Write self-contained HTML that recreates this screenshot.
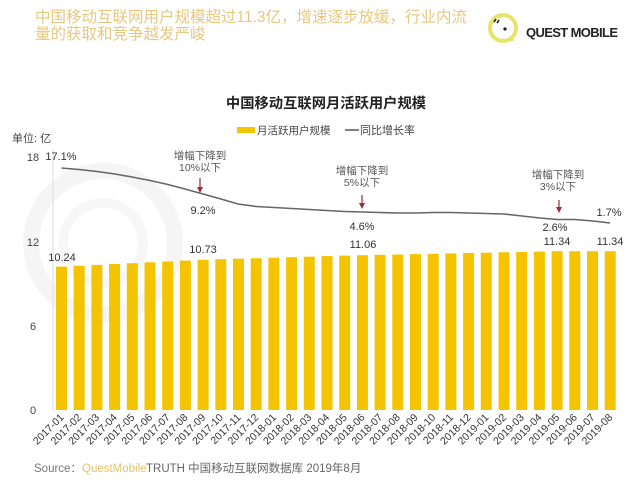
<!DOCTYPE html>
<html><head><meta charset="utf-8"><style>
html,body{margin:0;padding:0;background:#fff;}
svg{display:block;font-family:"Liberation Sans","Noto Sans CJK SC",sans-serif;}
</style></head><body>
<svg width="638" height="488" viewBox="0 0 638 488" xmlns="http://www.w3.org/2000/svg">
<rect width="638" height="488" fill="#fff"/>
<!-- header -->
<text x="35" y="22" font-size="15.5" fill="#e6c880" font-family="Liberation Sans,Noto Sans CJK SC,sans-serif">中国移动互联网用户规模超过11.3亿，增速逐步放缓，行业内流</text>
<text x="35" y="39" font-size="15.5" fill="#e6c880">量的获取和竞争越发严峻</text>
<!-- logo -->
<circle cx="503" cy="28" r="13" fill="none" stroke="#e8e46a" stroke-width="4"/>
<path d="M503 41 L514 41 L512 36 Z" fill="#e8e46a"/>
<circle cx="505" cy="29" r="1.6" fill="#222"/>
<path d="M494 22 L496 19 M497 23 L499 20" stroke="#222" stroke-width="1.6"/>
<text x="526" y="37" font-size="13" font-weight="bold" fill="#222" textLength="92">QUEST MOBILE</text>
<!-- watermark -->
<circle cx="103" cy="243" r="72" fill="none" stroke="#f5f5f5" stroke-width="16"/>
<circle cx="103" cy="243" r="40" fill="none" stroke="#f7f7f7" stroke-width="10"/>
<!-- title -->
<text x="326" y="108" font-size="14.3" font-weight="bold" fill="#222" text-anchor="middle">中国移动互联网月活跃用户规模</text>
<!-- legend -->
<rect x="237" y="127" width="18" height="6" fill="#f5c400"/>
<text x="257" y="134" font-size="10.5" fill="#444">月活跃用户规模</text>
<line x1="345" y1="130" x2="359" y2="130" stroke="#555" stroke-width="1.5"/>
<text x="360" y="134" font-size="11" fill="#444">同比增长率</text>
<text x="12" y="142" font-size="11" fill="#444">单位: 亿</text>
<!-- y axis -->
<line x1="53" y1="150" x2="53" y2="411" stroke="#ddd" stroke-width="1"/>
<g font-size="11" fill="#444" text-anchor="middle">
<text x="33" y="161">18</text>
<text x="33" y="246">12</text>
<text x="33" y="330">6</text>
<text x="33" y="414">0</text>
</g>
<!-- bars -->
<g fill="#f5c400">
<rect x="56.0" y="266.6" width="11" height="143.4"/>
<rect x="73.7" y="265.8" width="11" height="144.2"/>
<rect x="91.4" y="264.9" width="11" height="145.1"/>
<rect x="109.1" y="264.0" width="11" height="146.0"/>
<rect x="126.8" y="263.2" width="11" height="146.8"/>
<rect x="144.5" y="262.3" width="11" height="147.7"/>
<rect x="162.2" y="261.5" width="11" height="148.5"/>
<rect x="179.9" y="260.6" width="11" height="149.4"/>
<rect x="197.6" y="259.8" width="11" height="150.2"/>
<rect x="215.3" y="259.2" width="11" height="150.8"/>
<rect x="233.0" y="258.7" width="11" height="151.3"/>
<rect x="250.7" y="258.2" width="11" height="151.8"/>
<rect x="268.4" y="257.7" width="11" height="152.3"/>
<rect x="286.1" y="257.2" width="11" height="152.8"/>
<rect x="303.8" y="256.7" width="11" height="153.3"/>
<rect x="321.5" y="256.1" width="11" height="153.9"/>
<rect x="339.2" y="255.6" width="11" height="154.4"/>
<rect x="356.9" y="255.2" width="11" height="154.8"/>
<rect x="374.6" y="254.8" width="11" height="155.2"/>
<rect x="392.3" y="254.5" width="11" height="155.5"/>
<rect x="410.0" y="254.1" width="11" height="155.9"/>
<rect x="427.7" y="253.8" width="11" height="156.2"/>
<rect x="445.4" y="253.4" width="11" height="156.6"/>
<rect x="463.1" y="253.0" width="11" height="157.0"/>
<rect x="480.8" y="252.7" width="11" height="157.3"/>
<rect x="498.5" y="252.3" width="11" height="157.7"/>
<rect x="516.2" y="252.0" width="11" height="158.0"/>
<rect x="533.9" y="251.6" width="11" height="158.4"/>
<rect x="551.6" y="251.2" width="11" height="158.8"/>
<rect x="569.3" y="251.2" width="11" height="158.8"/>
<rect x="587.0" y="251.2" width="11" height="158.8"/>
<rect x="604.7" y="251.2" width="11" height="158.8"/>
</g>
<!-- line -->
<polyline fill="none" stroke="#666" stroke-width="1.6" stroke-linejoin="round" points="61.5,168 79,169.5 97,171.5 115,174 132,177 150,180.5 168,184.5 185,189 203,194 221,199 238,204 256,206.5 274,207.5 292,208.5 309,209.5 327,210.5 345,211.5 363,212 380,212.5 398,213 416,213 433,212.5 451,212.5 469,213 486,213.5 504,214 522,216 540,218 557,219.5 575,219.5 593,221 610,223"/>
<!-- data labels -->
<g font-size="11" fill="#333" text-anchor="middle">
<text x="61" y="160">17.1%</text>
<text x="62" y="261">10.24</text>
<text x="203" y="253">10.73</text>
<text x="203" y="214">9.2%</text>
<text x="362" y="230">4.6%</text>
<text x="363" y="248">11.06</text>
<text x="555" y="231">2.6%</text>
<text x="557" y="245">11.34</text>
<text x="609" y="216">1.7%</text>
<text x="610" y="245">11.34</text>
</g>
<!-- annotations -->
<g font-size="10.5" fill="#555" text-anchor="middle">
<text x="200" y="159">增幅下降到</text>
<text x="200" y="171">10%以下</text>
<text x="362" y="174">增幅下降到</text>
<text x="362" y="186">5%以下</text>
<text x="558" y="178">增幅下降到</text>
<text x="558" y="190">3%以下</text>
</g>
<g stroke="#9b2a3a" stroke-width="1.2" fill="#9b2a3a">
<line x1="200" y1="178" x2="200" y2="188"/><path d="M197 187 L203 187 L200 193 Z" stroke="none"/>
<line x1="362" y1="195" x2="362" y2="204"/><path d="M359 203 L365 203 L362 209 Z" stroke="none"/>
<line x1="559" y1="200" x2="559" y2="208"/><path d="M556 207 L562 207 L559 213 Z" stroke="none"/>
</g>
<!-- x labels -->
<g font-size="10.5" fill="#333" text-anchor="end">
<text transform="translate(64.5,418) rotate(-45)">2017-01</text>
<text transform="translate(82.2,418) rotate(-45)">2017-02</text>
<text transform="translate(99.9,418) rotate(-45)">2017-03</text>
<text transform="translate(117.6,418) rotate(-45)">2017-04</text>
<text transform="translate(135.3,418) rotate(-45)">2017-05</text>
<text transform="translate(153.0,418) rotate(-45)">2017-06</text>
<text transform="translate(170.7,418) rotate(-45)">2017-07</text>
<text transform="translate(188.4,418) rotate(-45)">2017-08</text>
<text transform="translate(206.1,418) rotate(-45)">2017-09</text>
<text transform="translate(223.8,418) rotate(-45)">2017-10</text>
<text transform="translate(241.5,418) rotate(-45)">2017-11</text>
<text transform="translate(259.2,418) rotate(-45)">2017-12</text>
<text transform="translate(276.9,418) rotate(-45)">2018-01</text>
<text transform="translate(294.6,418) rotate(-45)">2018-02</text>
<text transform="translate(312.3,418) rotate(-45)">2018-03</text>
<text transform="translate(330.0,418) rotate(-45)">2018-04</text>
<text transform="translate(347.7,418) rotate(-45)">2018-05</text>
<text transform="translate(365.4,418) rotate(-45)">2018-06</text>
<text transform="translate(383.1,418) rotate(-45)">2018-07</text>
<text transform="translate(400.8,418) rotate(-45)">2018-08</text>
<text transform="translate(418.5,418) rotate(-45)">2018-09</text>
<text transform="translate(436.2,418) rotate(-45)">2018-10</text>
<text transform="translate(453.9,418) rotate(-45)">2018-11</text>
<text transform="translate(471.6,418) rotate(-45)">2018-12</text>
<text transform="translate(489.3,418) rotate(-45)">2019-01</text>
<text transform="translate(507.0,418) rotate(-45)">2019-02</text>
<text transform="translate(524.7,418) rotate(-45)">2019-03</text>
<text transform="translate(542.4,418) rotate(-45)">2019-04</text>
<text transform="translate(560.1,418) rotate(-45)">2019-05</text>
<text transform="translate(577.8,418) rotate(-45)">2019-06</text>
<text transform="translate(595.5,418) rotate(-45)">2019-07</text>
<text transform="translate(613.2,418) rotate(-45)">2019-08</text>
</g>
<!-- source -->
<text x="34" y="472" font-size="11.5" fill="#777">Source：</text>
<text x="82" y="472" font-size="11.5" fill="#e2c46a">QuestMobile</text>
<text x="146" y="472" font-size="11.5" fill="#666">TRUTH 中国移动互联网数据库 2019年8月</text>
</svg>
</body></html>
